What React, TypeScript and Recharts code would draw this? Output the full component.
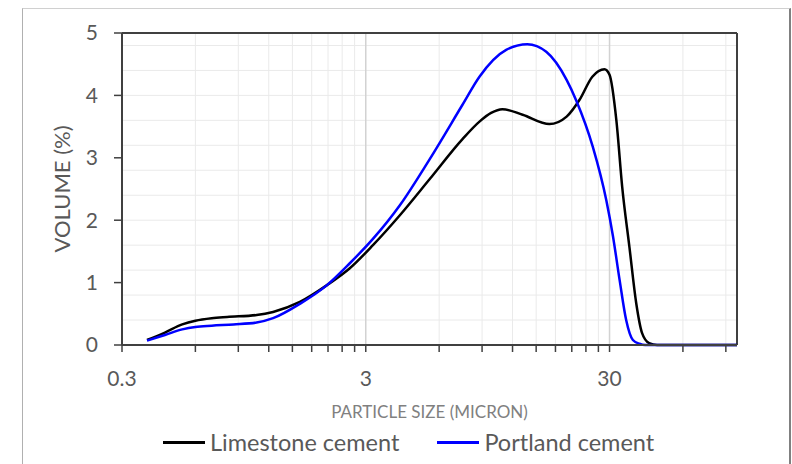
import {
  LineChart,
  Line,
  XAxis,
  YAxis,
  CartesianGrid,
  ReferenceLine,
  Legend,
} from "recharts";

// particle size (micron) / volume (%)
const limestoneSize = [
  0.38, 0.45, 0.53, 0.6, 0.7, 0.81, 1.07, 1.25, 1.61, 2.08, 2.58, 3.21, 4.14,
  5.49, 7.48, 8.78, 9.8, 10.9, 13.2, 17, 20, 22.6, 25.5, 28.6, 30, 32, 33.8,
  36.2, 38.6, 40.8, 43.6, 47, 100,
];
const limestoneVolume = [
  0.08, 0.2, 0.33, 0.39, 0.43, 0.45, 0.48, 0.53, 0.69, 0.96, 1.23, 1.6, 2.08,
  2.66, 3.3, 3.58, 3.72, 3.78, 3.69, 3.54, 3.66, 3.93, 4.3, 4.42, 4.33, 3.6,
  2.54, 1.57, 0.67, 0.19, 0.03, 0, 0,
];

const portlandSize = [
  0.38, 0.45, 0.53, 0.6, 0.7, 0.86, 1.07, 1.25, 1.61, 2.08, 2.58, 3.21, 4.14,
  5.49, 7.48, 8.78, 11.3, 13.8, 16.5, 20, 21.9, 25.6, 29.1, 31, 33, 35.1, 37.4,
  39.8, 42, 100,
];
const portlandVolume = [
  0.07, 0.16, 0.25, 0.29, 0.31, 0.33, 0.36, 0.43, 0.66, 0.96, 1.31, 1.7, 2.24,
  2.98, 3.85, 4.3, 4.73, 4.82, 4.7, 4.25, 3.92, 3.18, 2.32, 1.74, 1.04, 0.4,
  0.08, 0.02, 0, 0,
];

const xTicks = [
  0.3, 0.6, 0.9, 1.2, 1.5, 1.8, 2.1, 2.4, 2.7, 3, 6, 9, 12, 15, 18, 21, 24, 27,
  30, 60, 90,
];
const xLabels = [0.3, 3, 30];
const yTicks = [0, 1, 2, 3, 4, 5];
const yGrid = [
  0.2, 0.4, 0.6, 0.8, 1, 1.2, 1.4, 1.6, 1.8, 2, 2.2, 2.4, 2.6, 2.8, 3, 3.2, 3.4,
  3.6, 3.8, 4, 4.2, 4.4, 4.6, 4.8,
];

const limestone = limestoneSize.map((size, i) => ({
  size,
  volume: limestoneVolume[i],
}));
const portland = portlandSize.map((size, i) => ({
  size,
  volume: portlandVolume[i],
}));

const series = [
  { name: "Limestone cement", color: "#000000" },
  { name: "Portland cement", color: "#0000ff" },
];

const font = "Lato, 'Open Sans', sans-serif";
const axisColor = "#404040";
const textColor = "#595959";

function LegendBox() {
  return (
    <div
      style={{
        display: "flex",
        alignItems: "center",
        paddingLeft: 163,
        fontFamily: font,
        fontSize: 23.5,
        color: textColor,
      }}
    >
      {series.map((s, i) => (
        <div
          key={s.name}
          style={{
            display: "flex",
            alignItems: "center",
            marginRight: i === 0 ? 38 : 0,
          }}
        >
          <div
            style={{ width: 42, height: 3, background: s.color, marginRight: 5 }}
          />
          <span>{s.name}</span>
        </div>
      ))}
    </div>
  );
}

export default function App() {
  return (
    <div
      style={{
        position: "absolute",
        left: 0,
        top: 0,
        width: 792,
        height: 464,
        background: "#fff",
        overflow: "hidden",
      }}
    >
      <div
        style={{
          position: "absolute",
          left: 22,
          top: 8,
          width: 766,
          height: 480,
          borderLeft: "1px solid #b0b0b0",
          borderTop: "1px solid #d0d0d0",
          borderRight: "2px solid #808080",
        }}
      />
      <LineChart
        width={792}
        height={464}
        margin={{ top: 33, right: 55, bottom: 44, left: 0 }}
        style={{ position: "absolute", left: 0, top: 0 }}
      >
        <CartesianGrid
          stroke="#eaeaea"
          strokeWidth={1}
          horizontalValues={yGrid}
          verticalValues={xTicks.filter((t) => !xLabels.includes(t))}
        />
        <ReferenceLine x={3} stroke="#d2d2d2" strokeWidth={1.5} />
        <ReferenceLine x={30} stroke="#d2d2d2" strokeWidth={1.5} />
        <ReferenceLine y={5} stroke={axisColor} strokeWidth={2} />
        <ReferenceLine x={100} stroke={axisColor} strokeWidth={2} />
        <XAxis
          dataKey="size"
          type="number"
          scale="log"
          domain={[0.3, 100]}
          allowDataOverflow
          ticks={xTicks}
          interval={0}
          height={75}
          tickSize={7}
          tickMargin={19}
          tickFormatter={(v: number) => (xLabels.includes(v) ? String(v) : "")}
          axisLine={{ stroke: axisColor, strokeWidth: 2 }}
          tickLine={{ stroke: axisColor, strokeWidth: 1.5 }}
          tick={{ fill: textColor, fontSize: 21, fontFamily: font }}
          label={{
            value: "PARTICLE SIZE (MICRON)",
            position: "insideBottom",
            offset: 2,
            fill: "#808080",
            fontSize: 17,
            fontFamily: font,
          }}
        />
        <YAxis
          type="number"
          domain={[0, 5]}
          ticks={yTicks}
          width={122}
          tickSize={8}
          tickMargin={16}
          axisLine={{ stroke: axisColor, strokeWidth: 2 }}
          tickLine={{ stroke: axisColor, strokeWidth: 1.5 }}
          tick={{ fill: textColor, fontSize: 21, fontFamily: font }}
          label={{
            value: "VOLUME (%)",
            angle: -90,
            position: "insideLeft",
            offset: 62,
            fill: textColor,
            fontSize: 22,
            fontFamily: font,
            style: { textAnchor: "middle" },
          }}
        />
        <Legend
          layout="horizontal"
          verticalAlign="middle"
          align="center"
          wrapperStyle={{ top: 428, left: 0, width: 792 }}
          content={() => <LegendBox />}
        />
        <Line
          data={limestone}
          dataKey="volume"
          name={series[0].name}
          type="monotone"
          stroke={series[0].color}
          strokeWidth={2.5}
          dot={false}
          isAnimationActive={false}
        />
        <Line
          data={portland}
          dataKey="volume"
          name={series[1].name}
          type="monotone"
          stroke={series[1].color}
          strokeWidth={2.5}
          dot={false}
          isAnimationActive={false}
        />
      </LineChart>
    </div>
  );
}
